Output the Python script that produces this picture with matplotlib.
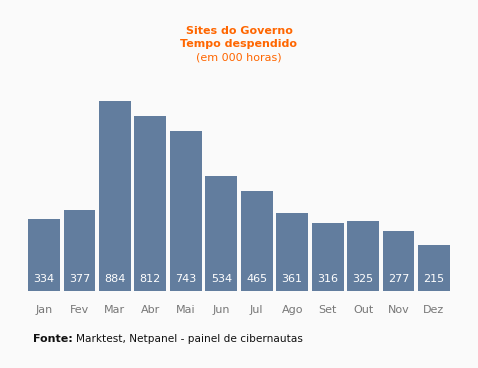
import matplotlib
matplotlib.use("Agg")
import matplotlib.pyplot as plt

months = ["Jan", "Fev", "Mar", "Abr", "Mai", "Jun", "Jul", "Ago", "Set", "Out", "Nov", "Dez"]
values = [334, 377, 884, 812, 743, 534, 465, 361, 316, 325, 277, 215]

W, H = 478, 368
fig = plt.figure(figsize=(W / 100, H / 100), dpi=100)
bg = "#FAFAFA"
fig.patch.set_facecolor(bg)

x0, x1 = 26.3, 451.7
ytop, ybot = 101, 291
ax = fig.add_axes([x0 / W, (H - ybot) / H, (x1 - x0) / W, (ybot - ytop) / H])
ax.set_facecolor(bg)
xs = list(range(len(months)))
ax.bar(xs, values, width=0.9, color="#627D9E")
ax.set_xlim(-0.5, len(months) - 0.5)
ax.set_ylim(0, max(values))
for s in ax.spines.values():
    s.set_visible(False)
ax.set_yticks([])
ax.set_xticks(xs)
ax.set_xticklabels(months, fontsize=8, color="#777777")
ax.tick_params(axis="x", length=0, pad=10)

for x, v in zip(xs, values):
    ax.annotate(str(v), (x, 0), xytext=(0, 9), textcoords="offset points",
                ha="center", va="center", color="white", fontsize=8)

orange = "#FF6600"
fig.text(239 / W, 1 - 31 / H, "Sites do Governo", ha="center", va="center",
         color=orange, fontsize=8, fontweight="bold")
fig.text(239 / W, 1 - 44 / H, "Tempo despendido", ha="center", va="center",
         color=orange, fontsize=8, fontweight="bold")
fig.text(239 / W, 1 - 57 / H, "(em 000 horas)", ha="center", va="center",
         color=orange, fontsize=8)

t = fig.text(33 / W, 1 - 339 / H, "Fonte:", ha="left", va="center",
             color="#111111", fontsize=8, fontweight="bold")
fig.canvas.draw()
bb = t.get_window_extent()
fig.text((bb.x1 + 3) / W, 1 - 339 / H, "Marktest, Netpanel - painel de cibernautas",
         ha="left", va="center", color="#111111", fontsize=7.6)

fig.savefig("out.png", dpi=100, facecolor=bg)
